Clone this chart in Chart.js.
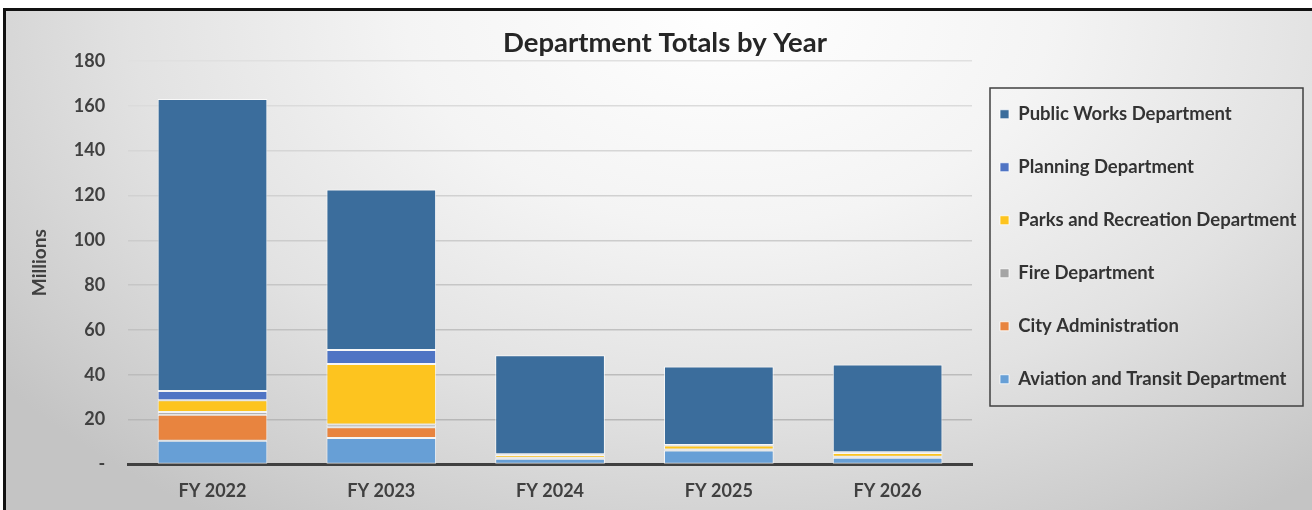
<!DOCTYPE html>
<html>
<head>
<meta charset="utf-8">
<script src="https://cdn.jsdelivr.net/npm/chart.js@4.4.0/dist/chart.umd.min.js"></script>
<style>
  html, body { margin: 0; padding: 0; background: #fff; overflow: hidden; }
  #frame {
    position: absolute; left: 3px; top: 8px; width: 1312px; height: 530px;
    border: 3px solid #111;
    background: radial-gradient(ellipse 70% 115% at 55% 0%, #ffffff 0%, #f4f4f4 35%, #e2e2e2 65%, #cdcdcd 90%, #c4c4c4 100%);
  }
  #wrap { position: absolute; left: 0; top: 0; width: 1300px; height: 509px; }
</style>
</head>
<body>
<div id="frame"><div id="wrap"><canvas id="deptChart"></canvas></div></div>
<script>
var years = ["FY 2022", "FY 2023", "FY 2024", "FY 2025", "FY 2026"];

// values in millions, bottom of stack first
var aviation    = [10.6, 11.8, 2.5, 6.2, 3.0];
var cityAdmin   = [11.6, 4.8, 0.0, 0.0, 0.0];
var fire        = [1.2, 1.2, 0.5, 0.4, 0.4];
var parks       = [5.2, 27.0, 1.2, 1.8, 1.7];
var planning    = [4.2, 6.2, 0.3, 0.3, 0.3];
var publicWorks = [130.2, 71.7, 44.2, 35.0, 39.2];

var yTicks = [0, 20, 40, 60, 80, 100, 120, 140, 160, 180];

var FONT = "Lato, 'Open Sans', sans-serif";

function makeSet(label, data, color) {
    return {
        label: label,
        data: data,
        backgroundColor: color,
        borderColor: "rgba(255,255,255,0.75)",
        borderWidth: 1,
        borderSkipped: false,
        barPercentage: 0.65,
        categoryPercentage: 1.0
    };
}

// gridlines fade from grey at the bottom to near white at the top
function gridColor(ctx) {
    var v = ctx.tick ? ctx.tick.value : 0;
    var g = Math.round(178 + (224 - 178) * v / 180);
    return "rgb(" + g + "," + g + "," + g + ")";
}

// draws the thin box around the legend items
var legendFrame = {
    id: "legendFrame",
    afterDraw: function (chart) {
        var lg = chart.legend;
        if (!lg || !lg.legendHitBoxes || !lg.legendHitBoxes.length) return;
        var hb = lg.legendHitBoxes;
        var first = hb[0], last = hb[hb.length - 1];
        var ctx = chart.ctx;
        var x = first.left - 10;
        var top = first.top + 9 - 26;
        var bottom = last.top + 9 + 27;
        ctx.save();
        ctx.strokeStyle = "#404040";
        ctx.lineWidth = 1.5;
        ctx.strokeRect(x, top, 313, bottom - top);
        ctx.restore();
    }
};

new Chart("deptChart", {
    type: "bar",
    data: {
        labels: years,
        datasets: [
            makeSet("Aviation and Transit Department", aviation, "#679fd6"),
            makeSet("City Administration", cityAdmin, "#e8843f"),
            makeSet("Fire Department", fire, "#a5a5a5"),
            makeSet("Parks and Recreation Department", parks, "#fdc41f"),
            makeSet("Planning Department", planning, "#4f74c4"),
            makeSet("Public Works Department", publicWorks, "#3b6d9c")
        ]
    },
    plugins: [legendFrame],
    options: {
        responsive: true,
        maintainAspectRatio: false,
        animation: false,
        layout: { padding: { left: 18, right: 0, top: 0, bottom: 10 } },
        plugins: {
            title: {
                display: true,
                text: "Department Totals by Year",
                color: "#262626",
                font: { family: FONT, size: 27.5, weight: "bold" },
                padding: { top: 16, bottom: 1 }
            },
            legend: {
                position: "right",
                reverse: true,
                align: "start",
                maxWidth: 334,
                // empty title only pushes the items down
                title: { display: true, text: " ", padding: 0, font: { size: 12, lineHeight: "66px" } },
                labels: {
                    color: "#333",
                    boxWidth: 9,
                    boxHeight: 9,
                    padding: 28,
                    font: { family: FONT, size: 18.5, weight: "bold", lineHeight: "25px" },
                    // one-line arrays so the row height follows the font lineHeight
                    generateLabels: function (chart) {
                        var items = Chart.defaults.plugins.legend.labels.generateLabels(chart);
                        items.forEach(function (it) { it.text = [it.text]; });
                        return items;
                    }
                }
            },
            tooltip: { enabled: false }
        },
        scales: {
            x: {
                stacked: true,
                grid: { display: false },
                border: { color: "#404040", width: 3 },
                ticks: {
                    color: "#404040",
                    padding: 8,
                    font: { family: FONT, size: 18, weight: "bold" }
                }
            },
            y: {
                stacked: true,
                min: 0,
                max: 180,
                afterBuildTicks: function (axis) {
                    axis.ticks = yTicks.map(function (v) { return { value: v }; });
                },
                grid: { color: gridColor, lineWidth: 1.5, drawTicks: false },
                border: { display: false },
                ticks: {
                    color: "#404040",
                    padding: 23,
                    font: { family: FONT, size: 18, weight: "bold" },
                    callback: function (v) { return v === 0 ? "-" : v; }
                },
                title: {
                    display: true,
                    text: "Millions",
                    color: "#404040",
                    padding: { top: 4, bottom: 0 },
                    font: { family: FONT, size: 19, weight: "bold" }
                }
            }
        }
    }
});
</script>
</body>
</html>
